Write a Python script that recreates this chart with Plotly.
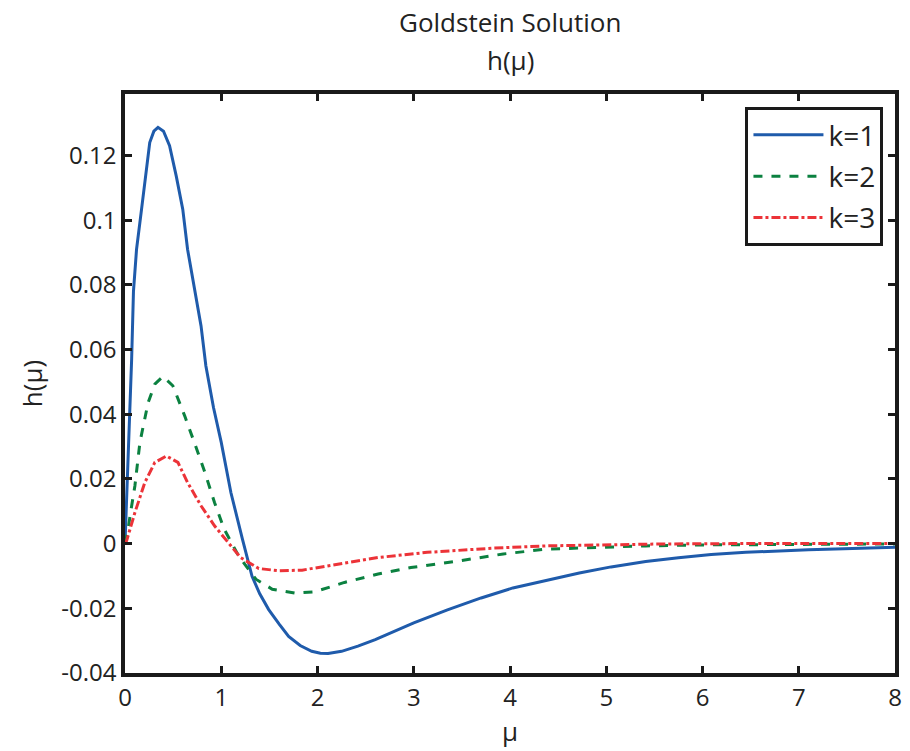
import plotly.graph_objects as go

# Goldstein solution h(mu) for k = 1, 2, 3
mu_k1 = [0, 0.035, 0.069, 0.088, 0.12, 0.172, 0.223, 0.257, 0.30, 0.343, 0.40, 0.463,
         0.532, 0.60, 0.65, 0.72, 0.79, 0.84, 0.92, 1.0, 1.10, 1.22, 1.32, 1.40, 1.493,
         1.60, 1.70, 1.82, 1.94, 2.03, 2.11, 2.25, 2.42, 2.60, 2.76, 3.0, 3.35, 3.7,
         4.03, 4.4, 4.72, 5.05, 5.41, 5.75, 6.09, 6.45, 6.78, 7.1, 7.47, 7.75, 8.0]
h_k1 = [0, 0.028, 0.057, 0.078, 0.091, 0.1034, 0.1158, 0.124, 0.1275, 0.1287, 0.1275,
        0.123, 0.1137, 0.1034, 0.091, 0.0797, 0.0673, 0.055, 0.042, 0.0313, 0.0158,
        0.0014, -0.0101, -0.0155, -0.0204, -0.0248, -0.0287, -0.0315, -0.0333, -0.0339,
        -0.0340, -0.0333, -0.0317, -0.0297, -0.0276, -0.0245, -0.0205, -0.0168, -0.0137,
        -0.0112, -0.0091, -0.0072, -0.0055, -0.0044, -0.0034, -0.0027, -0.0022, -0.0019,
        -0.0016, -0.0013, -0.0011]

mu_k2 = [0, 0.027, 0.06, 0.103, 0.155, 0.24, 0.31, 0.395, 0.497, 0.62, 0.72, 0.83, 0.93,
         1.03, 1.18, 1.36, 1.53, 1.77, 1.97, 2.28, 2.63, 2.97, 3.48, 3.93, 4.38, 4.9,
         5.41, 6.0, 6.6, 7.2, 8.0]
h_k2 = [0, 0.0035, 0.010, 0.0179, 0.0313, 0.0436, 0.0493, 0.0517, 0.0488, 0.0395, 0.0313,
        0.022, 0.0127, 0.0045, -0.0038, -0.011, -0.0141, -0.0153, -0.0149, -0.012,
        -0.0094, -0.0074, -0.0053, -0.0032, -0.0017, -0.0011, -0.0007, -0.0004, -0.0003,
        -0.0002, -0.0001]

mu_k3 = [0, 0.017, 0.103, 0.206, 0.31, 0.43, 0.55, 0.65, 0.79, 0.93, 1.07, 1.2, 1.39,
         1.60, 1.84, 2.21, 2.63, 3.14, 3.83, 4.38, 5.0, 5.6, 6.3, 7.0, 8.0]
h_k3 = [0, 0.0009, 0.0096, 0.0189, 0.0251, 0.0271, 0.0251, 0.0189, 0.0117, 0.0055,
        0.0004, -0.0043, -0.0077, -0.0084, -0.0082, -0.0063, -0.0043, -0.0027, -0.0014,
        -0.0007, -0.0003, -0.0001, 0, 0, 0]

x_ticks = [0, 1, 2, 3, 4, 5, 6, 7, 8]
y_ticks = [-0.04, -0.02, 0, 0.02, 0.04, 0.06, 0.08, 0.1, 0.12]
y_tick_text = ["-0.04", "-0.02", "0", "0.02", "0.04", "0.06", "0.08", "0.1", "0.12"]

FONT = "'Open Sans', 'Noto Sans', sans-serif"
INK = "#222222"

fig = go.Figure()
fig.add_trace(go.Scatter(x=mu_k1, y=h_k1, mode="lines", name="k=1", legendgroup="a",
                         line=dict(color="#1f5bab", width=3)))
fig.add_trace(go.Scatter(x=mu_k2, y=h_k2, mode="lines", name="k=2", legendgroup="b",
                         line=dict(color="#0b8140", width=3, dash="dash")))
fig.add_trace(go.Scatter(x=mu_k3, y=h_k3, mode="lines", name="k=3", legendgroup="c",
                         line=dict(color="#ec3338", width=3, dash="dashdot")))

axis_common = dict(showgrid=False, zeroline=False, showline=True, linecolor="#1a1a1a",
                   linewidth=3.5, mirror="ticks", ticks="inside", ticklen=7,
                   tickwidth=2.5, tickcolor="#1a1a1a",
                   tickfont=dict(family=FONT, size=24, color=INK))

fig.update_layout(
    width=910, height=751,
    margin=dict(l=125, r=8, t=94, b=78),
    paper_bgcolor="white", plot_bgcolor="white",
    font=dict(family=FONT, color=INK),
    xaxis=dict(range=[0, 8], tickvals=x_ticks,
               title=dict(text="μ", font=dict(family=FONT, size=26, color=INK), standoff=10),
               **axis_common),
    yaxis=dict(range=[-0.04, 0.139], tickvals=y_ticks, ticktext=y_tick_text,
               title=dict(text="h(μ)", font=dict(family=FONT, size=26, color=INK), standoff=12),
               **axis_common),
    legend=dict(x=0.985, y=0.9775, xanchor="right", yanchor="top",
                bordercolor="#1a1a1a", borderwidth=3, bgcolor="white",
                font=dict(family=FONT, size=28, color=INK),
                tracegroupgap=2, itemwidth=70),
    showlegend=True,
    annotations=[
        dict(text="Goldstein Solution", x=0.5, y=1.1244, xref="paper", yref="paper",
             xanchor="center", yanchor="middle", showarrow=False,
             font=dict(family=FONT, size=26, color=INK)),
        dict(text="h(μ)", x=0.5, y=1.0587, xref="paper", yref="paper",
             xanchor="center", yanchor="middle", showarrow=False,
             font=dict(family=FONT, size=26, color=INK)),
    ],
)

fig.write_html("out.html")
